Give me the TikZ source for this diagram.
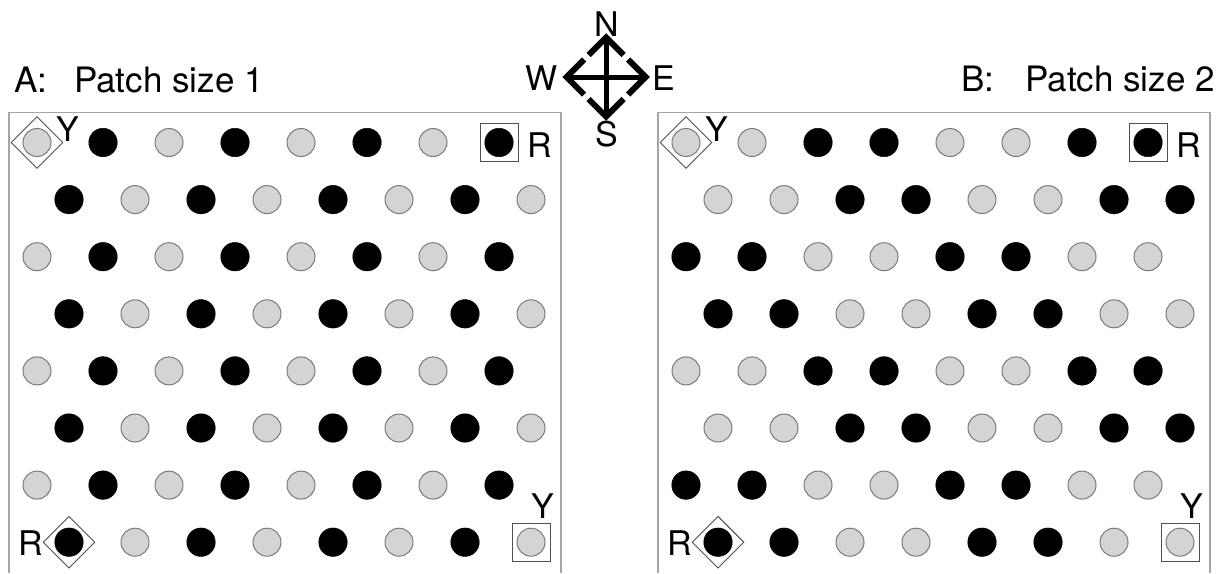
\documentclass[tikz,border=0pt]{standalone}
\usepackage{fontspec}
\setmainfont{TeX Gyre Heros}
\usetikzlibrary{shapes.geometric}
\definecolor{dotgray}{HTML}{D4D4D4}
\definecolor{ringgray}{HTML}{7A7A7A}
\definecolor{framegray}{HTML}{A6A6A6}
\definecolor{markgray}{HTML}{505050}
\begin{document}
\begin{tikzpicture}[x=1pt,y=-1pt,
  blk/.style={circle,fill=black,draw=black,line width=0.5pt,minimum size=28.5pt,inner sep=0pt},
  gry/.style={circle,fill=dotgray,draw=ringgray,line width=1pt,minimum size=28pt,inner sep=0pt},
  lbl/.style={font=\fontsize{34}{38}\selectfont,inner sep=0pt},
  ttl/.style={font=\fontsize{35}{40}\selectfont,inner sep=0pt,anchor=base west},
  frame/.style={draw=framegray,line width=1.3pt},
  dmark/.style={diamond,draw=markgray,line width=0.9pt,minimum size=52pt,inner sep=0pt},
  smark/.style={rectangle,draw=markgray,line width=0.9pt,minimum size=38pt,inner sep=0pt},
  shaft/.style={line width=5pt,line cap=butt},
  barb/.style={line width=6pt,line cap=butt,line join=miter}]
\useasboundingbox (0,0) rectangle (1225,573);
\fill[white] (0,0) rectangle (1225,573);

% frames
\draw[frame] (9,573) -- (9,112.5) -- (561,112.5) -- (561,573);
\draw[frame] (658,573) -- (658,112.5) -- (1210,112.5) -- (1210,573);

% titles
\node[ttl] (ta) at (14,92) {A:};
\node[ttl] (tap) at (74,92) {Patch size 1};
\node[ttl] (tb) at (961,91) {B:};
\node[ttl] (tbp) at (1025,91) {Patch size 2};

% dots
\foreach \r in {1,...,8} {
  \foreach \c in {1,...,8} {
    \pgfmathtruncatemacro\ev{1-mod(\r,2)}
    \pgfmathsetmacro\xx{37+66*(\c-1)+32*\ev}
    \pgfmathsetmacro\yy{142.5+57.1*(\r-1)}
    \pgfmathsetmacro\xb{\xx+649}
    \pgfmathtruncatemacro\ka{mod(\r+\c,2)}
    \pgfmathtruncatemacro\kb{mod(floor((\c-1)/2)+floor((\r-1)/2),2)}
    \ifnum\ka=1
      \node[blk] (a-\r-\c) at (\xx,\yy) {};
    \else
      \node[gry] (a-\r-\c) at (\xx,\yy) {};
    \fi
    \ifnum\kb=1
      \node[blk] (b-\r-\c) at (\xb,\yy) {};
    \else
      \node[gry] (b-\r-\c) at (\xb,\yy) {};
    \fi
  }
}

% markers panel A
\node[dmark] (ma1) at (a-1-1) {};
\node[lbl] (ya1) at ([shift={(31,-13.5)}]a-1-1) {Y};
\node[smark] (ma2) at (a-1-8) {};
\node[lbl] (ra2) at ([shift={(41,3)}]a-1-8) {R};
\node[dmark] (ma3) at (a-8-1) {};
\node[lbl] (ra3) at ([shift={(-38,1)}]a-8-1) {R};
\node[smark] (ma4) at (a-8-8) {};
\node[lbl] (ya4) at ([shift={(12,-36)}]a-8-8) {Y};

% markers panel B
\node[dmark] (mb1) at (b-1-1) {};
\node[lbl] (yb1) at ([shift={(31,-13.5)}]b-1-1) {Y};
\node[smark] (mb2) at (b-1-8) {};
\node[lbl] (rb2) at ([shift={(41,3)}]b-1-8) {R};
\node[dmark] (mb3) at (b-8-1) {};
\node[lbl] (rb3) at ([shift={(-38,1)}]b-8-1) {R};
\node[smark] (mb4) at (b-8-8) {};
\node[lbl] (yb4) at ([shift={(12,-36)}]b-8-8) {Y};

% compass
\coordinate (cc) at (606,77);
\coordinate (cn) at (606,37.5);
\coordinate (cs) at (606,116.5);
\coordinate (cw) at (566.5,77);
\coordinate (ce) at (645.5,77);
\draw[shaft] (cn) -- (cs);
\draw[shaft] (cw) -- (ce);
\draw[barb] ([shift={(-17.5,17.5)}]cn) -- (cn) -- ([shift={(17.5,17.5)}]cn);
\draw[barb] ([shift={(-17.5,-17.5)}]cs) -- (cs) -- ([shift={(17.5,-17.5)}]cs);
\draw[barb] ([shift={(17.5,-17.5)}]cw) -- (cw) -- ([shift={(17.5,17.5)}]cw);
\draw[barb] ([shift={(-17.5,-17.5)}]ce) -- (ce) -- ([shift={(-17.5,17.5)}]ce);
\node[lbl] (ln) at (607,24) {N};
\node[lbl] (ls) at (607,134) {S};
\node[lbl] (lw) at (542,78) {W};
\node[lbl] (le) at (664,78) {E};
\end{tikzpicture}
\end{document}
